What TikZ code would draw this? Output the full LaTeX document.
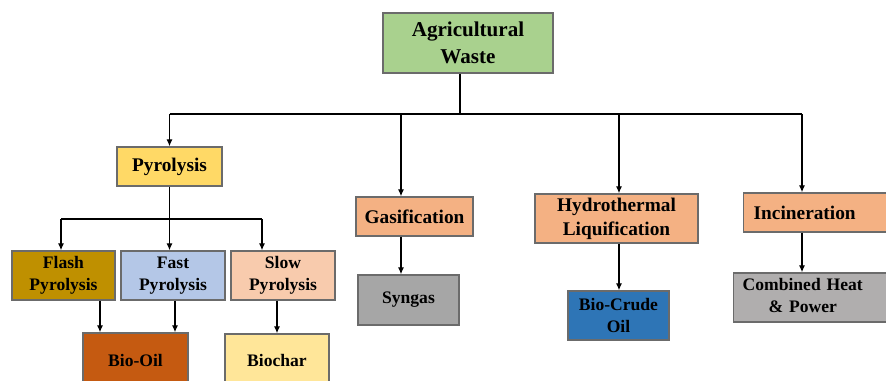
\documentclass[tikz,border=0pt]{standalone}
\usepackage{fontspec}
\setmainfont{Liberation Serif}
\usetikzlibrary{arrows.meta}
\definecolor{boxgray}{HTML}{6B6B6B}
\definecolor{wastegreen}{HTML}{A9D18E}
\definecolor{pyroyellow}{HTML}{FFD966}
\definecolor{peach}{HTML}{F4B183}
\definecolor{syngray}{HTML}{A6A6A6}
\definecolor{chpgray}{HTML}{B0AEAE}
\definecolor{crudeblue}{HTML}{2E75B6}
\definecolor{flashgold}{HTML}{BF9000}
\definecolor{fastblue}{HTML}{B4C7E7}
\definecolor{slowpeach}{HTML}{F8CBAD}
\definecolor{oilbrown}{HTML}{C55A11}
\definecolor{charyellow}{HTML}{FFE699}

\begin{document}
\begin{tikzpicture}[x=0.02cm, y=-0.02cm,
    box/.style={draw=boxgray, line width=0.8pt, align=center, inner sep=0pt,
        font=\bfseries\fontsize{10}{12.5}\selectfont},
    big/.style={font=\bfseries\fontsize{11}{13.6}\selectfont},
    link/.style={line width=1.1pt},
    arr/.style={link, -{Latex[length=4pt, width=3.6pt]}}]
    \useasboundingbox (0,0) rectangle (886,380);
    \clip (0,0) rectangle (886,380);

    % top level
    \node[box, fill=wastegreen, minimum width=3.4cm, minimum height=1.2cm,
        font=\bfseries\fontsize{12}{15}\selectfont] (waste) at (468,43) {Agricultural\\Waste};

    % conversion routes
    \node[box, big, fill=pyroyellow, minimum width=2.1cm, minimum height=0.78cm] (pyro) at (169.5,166.5) {Pyrolysis};
    \node[box, big, fill=peach, minimum width=2.34cm, minimum height=0.78cm] (gasif) at (414.5,216.5) {Gasification};
    \node[box, big, fill=peach, minimum width=3.26cm, minimum height=0.98cm] (hydro) at (616.5,218.5) {Hydrothermal\\Liquification};
    \node[box, big, fill=peach, anchor=west, align=left, inner xsep=0.2cm, text width=2.54cm,
        minimum height=0.78cm] (incin) at (743,212.5) {Incineration};

    % pyrolysis modes
    \node[box, fill=flashgold, minimum width=2.06cm, minimum height=0.98cm] (flash) at (63.5,275.5) {Flash\\Pyrolysis};
    \node[box, fill=fastblue, minimum width=2.08cm, minimum height=0.98cm] (fast) at (173,275.5) {Fast\\Pyrolysis};
    \node[box, fill=slowpeach, minimum width=2.08cm, minimum height=0.98cm] (slow) at (283,275.5) {Slow\\Pyrolysis};

    % products
    \node[box, fill=oilbrown, minimum width=2.1cm, minimum height=1.08cm] (biooil) at (135.5,360) {Bio-Oil};
    \node[box, fill=charyellow, minimum width=2.08cm, minimum height=1.04cm] (biochar) at (277,360) {Biochar};
    \node[box, fill=syngray, minimum width=2.02cm, minimum height=1.0cm] (syngas) at (408.5,300) {Syngas};
    \node[box, fill=crudeblue, minimum width=2.02cm, minimum height=0.98cm] (crude) at (618.5,315.5) {Bio-Crude\\Oil};
    \node[box, fill=chpgray, anchor=west, align=left, inner xsep=0.18cm, text width=2.78cm,
        minimum height=0.98cm] (chp) at (733,297.5) {\begin{tabular}{@{}c@{}}Combined Heat\\\& Power\end{tabular}};

    % drop columns
    \coordinate (hub) at (460,114);
    \coordinate (gcol) at (401,114);
    \coordinate (hcol) at (619,114);
    \coordinate (icol) at (802,114);
    \coordinate (split) at (170,219);
    \coordinate (flcol) at (61,219);
    \coordinate (slcol) at (262,219);
    \coordinate (oilcol) at (100,0);

    % main bus
    \draw[link] (waste.south -| hub) -- (hub);
    \draw[link] (pyro.north |- hub) -- (icol);
    \draw[arr] (pyro.north |- hub) -- (pyro.north);
    \draw[arr] (gcol) -- (gcol |- gasif.north);
    \draw[arr] (hcol) -- (hcol |- hydro.north);
    \draw[arr] (icol) -- (icol |- incin.north);

    % pyrolysis split
    \draw[arr] (pyro.south) -- (pyro.south |- fast.north);
    \draw[link] (flcol) -- (slcol);
    \draw[arr] (flcol) -- (flcol |- flash.north);
    \draw[arr] (slcol) -- (slcol |- slow.north);

    % to products
    \draw[arr] (oilcol |- flash.south) -- (oilcol |- biooil.north);
    \draw[arr] ([xshift=0.04cm]fast.south) -- ([xshift=0.04cm]fast.south |- biooil.north);
    \draw[arr] (biochar.north |- slow.south) -- (biochar.north);
    \draw[arr] (gcol |- gasif.south) -- (gcol |- syngas.north);
    \draw[arr] (hcol |- hydro.south) -- (hcol |- crude.north);
    \draw[arr] (icol |- incin.south) -- (icol |- chp.north);
\end{tikzpicture}
\end{document}
